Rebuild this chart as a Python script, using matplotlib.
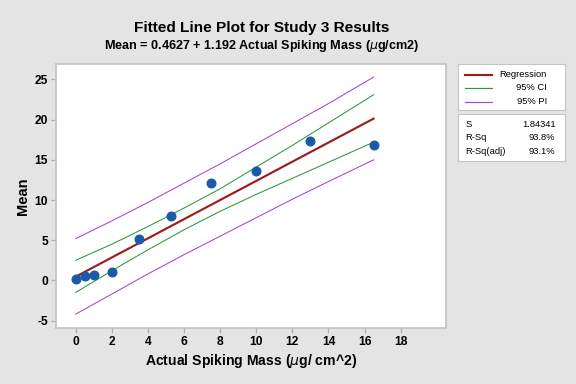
import matplotlib
matplotlib.use('Agg')
import matplotlib.pyplot as plt

plt.rcParams['font.family'] = ['Liberation Sans', 'DejaVu Sans']

# observed points
mass = [0, 0.5, 1, 2, 3.5, 5.25, 7.5, 10, 13, 16.5]
mean = [0.2, 0.5, 0.7, 1.1, 5.2, 8.0, 12.1, 13.6, 17.4, 16.9]

# fitted line and bands, read at a few x positions
band_x = [0, 2, 4, 6, 8, 10, 12, 14, 16.5]
fit_y = [0.46, 2.85, 5.23, 7.62, 10.0, 12.38, 14.77, 17.15, 20.13]
ci_lo = [-1.5, 1.2, 3.8, 6.3, 8.6, 10.7, 12.7, 14.7, 17.2]
ci_hi = [2.5, 4.5, 6.7, 9.0, 11.4, 14.1, 16.8, 19.6, 23.1]
pi_lo = [-4.2, -1.7, 0.8, 3.2, 5.5, 7.8, 10.1, 12.3, 15.0]
pi_hi = [5.2, 7.4, 9.7, 12.1, 14.5, 17.0, 19.5, 22.0, 25.3]

legend_labels = ['Regression', '95% CI', '95% PI']
stat_names = ['S', 'R-Sq', 'R-Sq(adj)']
stat_values = ['1.84341', '93.8%', '93.1%']

xticks = list(range(0, 19, 2))
yticks = list(range(-5, 26, 5))

red = '#9b1c1c'
green = '#2e9a3e'
purple = '#a848d8'
blue = '#1a5aa6'
edge = '#c4c4c4'

fig = plt.figure(figsize=(6, 4), dpi=96, facecolor='#e4e4e4')
ax = fig.add_axes([0.097, 0.146, 0.677, 0.688])

ax.plot(band_x, pi_hi, color=purple, lw=0.8)
ax.plot(band_x, pi_lo, color=purple, lw=0.8)
ax.plot(band_x, ci_hi, color=green, lw=0.8)
ax.plot(band_x, ci_lo, color=green, lw=0.8)
ax.plot(band_x, fit_y, color=red, lw=1.6)
ax.plot(mass, mean, 'o', color=blue, ms=6.5, mec=blue)

ax.set_xlim(-1.1, 20.5)
ax.set_ylim(-5.92, 26.96)
ax.set_xticks(xticks)
ax.set_yticks(yticks)
ax.set_xticklabels([str(t) for t in xticks], fontweight='bold', fontsize=9)
ax.set_yticklabels([str(t) for t in yticks], fontweight='bold', fontsize=9)
ax.tick_params(direction='out', length=4, width=1, color='#b0b0b0', pad=2)
for s in ax.spines.values():
    s.set_color(edge)
    s.set_linewidth(1.3)

ax.set_xlabel(r'Actual Spiking Mass ($\mu$g/ cm^2)', fontsize=10.5, fontweight='bold', labelpad=3)
ax.set_ylabel('Mean', fontsize=11, fontweight='bold', labelpad=3)

fig.text(0.455, 0.926, 'Fitted Line Plot for Study 3 Results', ha='center', va='center',
         fontsize=11.5, fontweight='bold')
fig.text(0.455, 0.881, r'Mean = 0.4627 + 1.192 Actual Spiking Mass ($\mu$g/cm2)', ha='center',
         va='center', fontsize=9.5, fontweight='bold')

# legend box
lax = fig.add_axes([0.795, 0.714, 0.186, 0.120])
lax.set_xlim(0, 1)
lax.set_ylim(0, 1)
lax.set_xticks([])
lax.set_yticks([])
for s in lax.spines.values():
    s.set_color(edge)
rows = [0.76, 0.48, 0.17]
for lbl, c, lw, yy in zip(legend_labels, [red, green, purple], [1.6, 0.9, 0.9], rows):
    lax.plot([0.07, 0.32], [yy, yy], color=c, lw=lw)
    lax.text(0.83, yy, lbl, ha='right', va='center', fontsize=7)

# stats box
sax = fig.add_axes([0.795, 0.581, 0.186, 0.122])
sax.set_xlim(0, 1)
sax.set_ylim(0, 1)
sax.set_xticks([])
sax.set_yticks([])
for s in sax.spines.values():
    s.set_color(edge)
for name, val, yy in zip(stat_names, stat_values, [0.77, 0.49, 0.19]):
    sax.text(0.07, yy, name, ha='left', va='center', fontsize=7)
    sax.text(0.91, yy, val, ha='right', va='center', fontsize=7)

fig.savefig('out.png', dpi=96, facecolor=fig.get_facecolor())
